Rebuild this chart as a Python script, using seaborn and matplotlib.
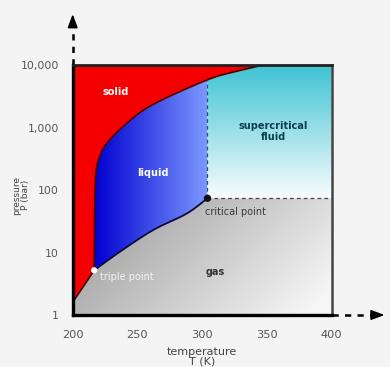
import numpy as np
import pandas as pd
import seaborn as sns
import matplotlib
matplotlib.use("Agg")
import matplotlib.pyplot as plt
from matplotlib.patches import Polygon
from matplotlib.colors import to_rgb

# ---------------- data ----------------
sub_T = [200.0, 208.0, 216.6]
sub_P = [1.6, 2.8, 5.2]
melt_T = [216.6, 217.0, 218.0, 220.5, 226.3, 241.7, 262.2, 303.5, 325.0, 347.0]
melt_P = [5.2, 60.0, 190.0, 330.0, 560.0, 1170.0, 2350.0, 5750.0, 7800.0, 10000.0]
vap_T = [216.6, 236.5, 262.2, 288.0, 304.1]
vap_P = [5.2, 10.3, 22.9, 42.0, 73.8]
triple = (216.6, 5.2)
critical = (304.1, 73.8)
x_ticks = [200, 250, 300, 350, 400]
y_ticks = [1, 10, 100, 1000, 10000]
y_ticklabels = ["1", "10", "100", "1,000", "10,000"]
labels = ["solid", "liquid", "supercritical\nfluid", "gas", "critical point", "triple point"]
label_T = [233, 262, 355, 310, 302, 221]
label_P = [3700, 185, 860, 4.9, 45, 4.1]


def smooth(xs, ys, n=24):
    pts = np.column_stack([xs, ys])
    P = np.vstack([pts[0], pts, pts[-1]])
    out = []
    t = np.linspace(0, 1, n, endpoint=False)[:, None]
    for i in range(1, len(P) - 2):
        p0, p1, p2, p3 = P[i - 1], P[i], P[i + 1], P[i + 2]
        out.append(0.5 * ((2 * p1) + (-p0 + p2) * t + (2 * p0 - 5 * p1 + 4 * p2 - p3) * t ** 2
                          + (-p0 + 3 * p1 - 3 * p2 + p3) * t ** 3))
    out.append(P[-2][None])
    a = np.vstack(out)
    return a[:, 0], 10 ** a[:, 1]


sT, sP = smooth(sub_T, np.log10(sub_P))
mT, mP = smooth(melt_T, np.log10(melt_P))
vT, vP = smooth(vap_T, np.log10(vap_P))
Tc, Pc = critical
mPc = 10 ** np.interp(Tc, mT, np.log10(mP))
lo = mT <= Tc
hi = mT > Tc

sns.set_style("white")
plt.rcParams["font.family"] = ["DejaVu Sans"]

fig = plt.figure(figsize=(3.9, 3.67), dpi=100, facecolor="#f4f4f4")
ax = fig.add_axes([0.1864, 0.1417, 0.664, 0.681])
ax.set_facecolor("white")
ax.set_yscale("log")
ax.set_xlim(200, 400)
ax.set_ylim(1, 10000)


def grad_image(c_start, c_end, direction, p0=0.0, p1=1.0, n=256):
    s = np.linspace(0, 1, n)
    c0 = np.array(to_rgb(c_start)); c1 = np.array(to_rgb(c_end))
    if direction == "h":
        f = np.clip((s[None, :] - p0) / (p1 - p0), 0, 1) * np.ones((n, 1))
    elif direction == "v":  # row 0 = top
        f = np.clip(((1 - s)[:, None] - p0) / (p1 - p0), 0, 1) * np.ones((1, n))
    else:  # diagonal top-left -> bottom-right
        f = (s[None, :] + s[:, None]) / 2.0
        f = np.clip((f - p0) / (p1 - p0), 0, 1)
    return c0 + (c1 - c0) * f[..., None]


def clipped(img, verts, z):
    poly = Polygon(verts, closed=True, transform=ax.transData, facecolor="none", edgecolor="none")
    ax.add_patch(poly)
    im = ax.imshow(img, extent=[0, 1, 0, 1], transform=ax.transAxes, aspect="auto",
                   interpolation="bilinear", zorder=z)
    im.set_clip_path(poly)


# gas
gas = [(200, 1), (200, sP[0])] + list(zip(sT, sP)) + list(zip(vT, vP)) + [(Tc, Pc), (400, Pc), (400, 1)]
clipped(grad_image("#7c7c7c", "#f6f6f6", "d", 0.1, 0.95), gas, 1)
# liquid
liq = list(zip(mT[lo], mP[lo])) + [(Tc, mPc), (Tc, Pc)] + list(zip(vT[::-1], vP[::-1]))
clipped(grad_image("#0000cf", "#7c98ff", "h", 0.08, 0.52), liq, 1)
# supercritical
sc = [(Tc, Pc), (Tc, mPc)] + list(zip(mT[hi], mP[hi])) + [(400, 10000), (400, Pc)]
clipped(grad_image("#ffffff", "#3fc3d3", "v", 0.45, 1.0), sc, 1)
# solid
sol = [(200, 10000), (200, sP[0])] + list(zip(sT, sP)) + list(zip(mT, mP)) + [(400, 10000)]
ax.add_patch(Polygon(sol, closed=True, facecolor="#f40000", edgecolor="none", zorder=1))

# boundaries
bT = np.concatenate([sT, mT]); bP = np.concatenate([sP, mP])
sns.lineplot(x=bT, y=bP, sort=False, estimator=None, color="#4a0000", lw=1.2, ax=ax, zorder=3)
sns.lineplot(x=vT, y=vP, sort=False, estimator=None, color="#0a0a40", lw=1.3, ax=ax, zorder=3)
ax.plot([Tc, Tc], [Pc, mPc], ls=(0, (3, 2.5)), color="#1f4f7a", lw=0.9, zorder=3)
ax.plot([Tc, 400], [Pc, Pc], ls=(0, (3, 2.5)), color="#444444", lw=0.9, zorder=3)

sns.scatterplot(x=[critical[0]], y=[critical[1]], color="#111111", s=28, edgecolor="none", ax=ax, zorder=5)
sns.scatterplot(x=[triple[0]], y=[triple[1]], color="#ffffff", s=20, edgecolor="none", ax=ax, zorder=5)

# labels
styles = [
    dict(color="white", weight="bold", ha="center"),
    dict(color="white", weight="bold", ha="center"),
    dict(color="#0b3f4f", weight="bold", ha="center"),
    dict(color="#333333", weight="bold", ha="center"),
    dict(color="#3a3a3a", weight="normal", ha="left"),
    dict(color="#f2f2f2", weight="normal", ha="left"),
]
for lab, t, p, st in zip(labels, label_T, label_P, styles):
    ax.text(t, p, lab, fontsize=7, va="center", linespacing=1.1, zorder=6, **st)

# axes styling
ax.set_xticks(x_ticks)
ax.set_xticklabels([str(v) for v in x_ticks])
ax.set_yticks(y_ticks)
ax.set_yticklabels(y_ticklabels)
ax.yaxis.set_minor_locator(matplotlib.ticker.NullLocator())
ax.tick_params(axis="both", which="major", length=6, width=2.6, color="black",
               labelcolor="#555555", direction="out")
ax.tick_params(axis="y", labelsize=7.8, pad=4)
ax.tick_params(axis="x", labelsize=8.2, pad=4.5)
for side in ["left", "bottom"]:
    ax.spines[side].set_color("black"); ax.spines[side].set_linewidth(2.4)
ax.spines["top"].set_color("#222222"); ax.spines["top"].set_linewidth(2.0)
ax.spines["right"].set_color("#444444"); ax.spines["right"].set_linewidth(1.8)
for sp in ax.spines.values():
    sp.set_zorder(7)
ax.set_xlabel("temperature\nT (K)", fontsize=8, color="#444444", labelpad=5, linespacing=1.05)
ax.set_ylabel("pressure\nP (bar)", fontsize=6.5, color="#444444", linespacing=1.05)
ax.yaxis.set_label_coords(-0.163, 0.48)

# dashed axis arrows
ax.plot([0, 0], [1.0, 1.17], transform=ax.transAxes, clip_on=False, ls=(0, (2.5, 2.5)), color="black", lw=1.8)
ax.annotate("", xy=(0, 1.215), xytext=(0, 1.15), xycoords="axes fraction",
            arrowprops=dict(arrowstyle="-|>,head_length=0.8,head_width=0.3", color="black", lw=1.2))
ax.plot([1.0, 1.17], [0, 0], transform=ax.transAxes, clip_on=False, ls=(0, (2.5, 2.5)), color="black", lw=1.8)
ax.annotate("", xy=(1.215, 0), xytext=(1.15, 0), xycoords="axes fraction",
            arrowprops=dict(arrowstyle="-|>,head_length=0.8,head_width=0.3", color="black", lw=1.2))

fig.savefig("out.png", dpi=100, facecolor=fig.get_facecolor())
